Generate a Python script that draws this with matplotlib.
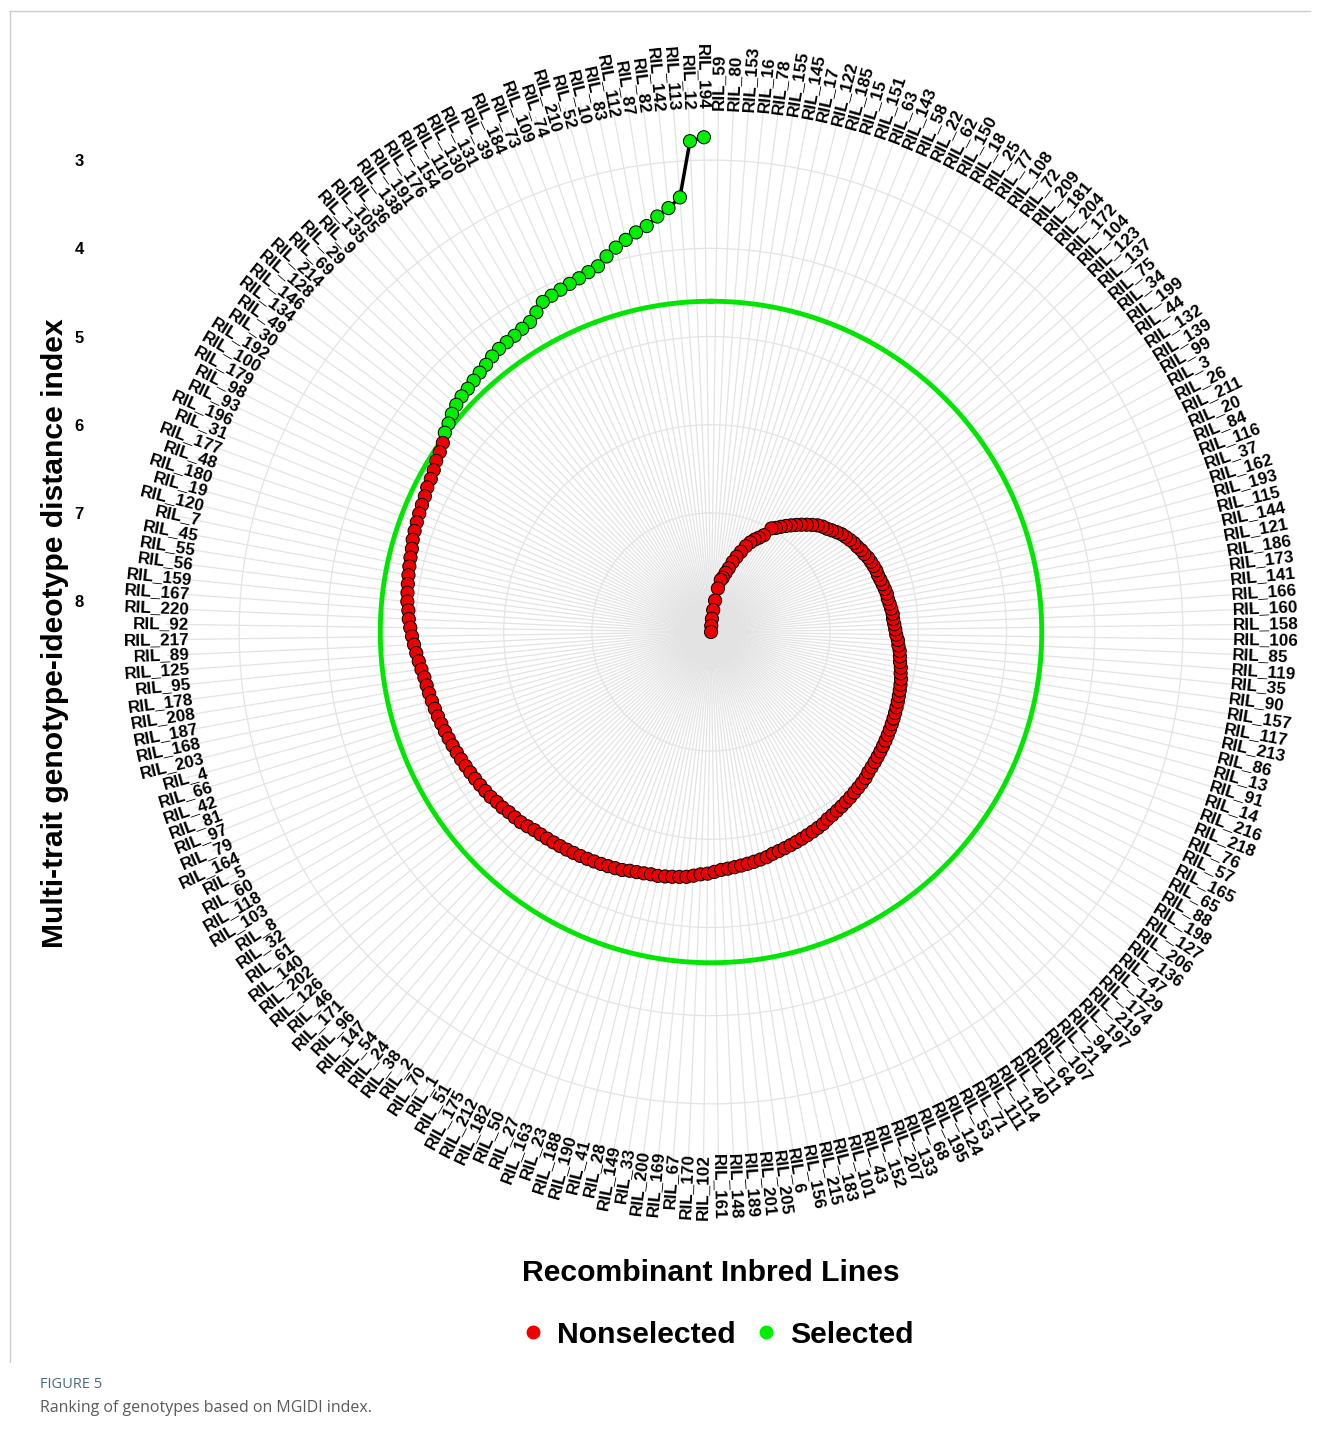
import matplotlib.pyplot as plt
import numpy as np
from matplotlib.lines import Line2D

# genotypes in ranking order (lowest MGIDI first)
genotypes = [
    194, 12, 113, 142, 82, 87, 112, 83, 10, 52, 210, 74, 109, 73, 184, 39, 131, 130, 110, 154,
    176, 191, 138, 36, 105, 135, 9, 29, 69, 214, 128, 146, 134, 49, 30, 192, 100, 179, 98, 93,
    196, 31, 177, 48, 180, 19, 120, 7, 45, 55, 56, 159, 167, 220, 92, 217, 89, 125, 95, 178,
    208, 187, 168, 203, 4, 66, 42, 81, 97, 79, 164, 5, 60, 118, 103, 8, 32, 61, 140, 202,
    126, 46, 171, 96, 147, 54, 24, 38, 2, 70, 1, 51, 175, 212, 182, 50, 27, 163, 23, 188,
    190, 41, 28, 149, 33, 200, 169, 67, 170, 102, 161, 148, 189, 201, 205, 6, 156, 215, 183, 101,
    43, 152, 207, 133, 68, 195, 124, 53, 71, 111, 114, 40, 11, 64, 107, 21, 94, 197, 219, 174,
    129, 47, 136, 206, 127, 198, 88, 65, 165, 57, 76, 218, 216, 14, 91, 13, 86, 213, 117, 157,
    90, 35, 119, 85, 106, 158, 160, 166, 141, 173, 186, 121, 144, 115, 193, 162, 37, 116, 84, 20,
    211, 26, 3, 99, 139, 132, 44, 199, 34, 75, 137, 123, 104, 172, 204, 181, 209, 72, 108, 77,
    25, 18, 150, 62, 22, 58, 143, 63, 151, 15, 185, 122, 17, 145, 155, 78, 16, 153, 80, 59,
]
labels = ["RIL_%d" % g for g in genotypes]

# MGIDI values, same order as genotypes
mgidi = [
    2.74, 2.78, 3.41, 3.52, 3.60, 3.69, 3.74, 3.80, 3.86, 3.93,
    4.01, 4.04, 4.07, 4.09, 4.11, 4.13, 4.15, 4.22, 4.28, 4.30,
    4.32, 4.33, 4.34, 4.36, 4.39, 4.41, 4.43, 4.45, 4.46, 4.48,
    4.51, 4.55, 4.58, 4.63, 4.66, 4.68, 4.71, 4.73, 4.74, 4.76,
    4.77, 4.78, 4.79, 4.80, 4.81, 4.83, 4.84, 4.85, 4.86, 4.87,
    4.88, 4.89, 4.91, 4.92, 4.94, 4.96, 4.98, 5.00, 5.02, 5.04,
    5.06, 5.07, 5.08, 5.09, 5.10, 5.11, 5.12, 5.13, 5.14, 5.15,
    5.16, 5.17, 5.18, 5.19, 5.20, 5.21, 5.22, 5.23, 5.25, 5.26,
    5.28, 5.29, 5.30, 5.32, 5.34, 5.35, 5.36, 5.37, 5.38, 5.39,
    5.40, 5.41, 5.42, 5.43, 5.44, 5.45, 5.46, 5.47, 5.49, 5.50,
    5.51, 5.52, 5.52, 5.53, 5.54, 5.55, 5.56, 5.58, 5.60, 5.61,
    5.63, 5.65, 5.66, 5.67, 5.68, 5.69, 5.70, 5.71, 5.72, 5.74,
    5.75, 5.76, 5.77, 5.78, 5.79, 5.80, 5.81, 5.82, 5.83, 5.85,
    5.86, 5.87, 5.88, 5.89, 5.90, 5.91, 5.92, 5.93, 5.94, 5.96,
    5.97, 5.98, 5.99, 6.00, 6.01, 6.02, 6.03, 6.04, 6.05, 6.06,
    6.07, 6.08, 6.09, 6.10, 6.11, 6.12, 6.13, 6.15, 6.16, 6.18,
    6.19, 6.20, 6.22, 6.23, 6.25, 6.26, 6.27, 6.28, 6.28, 6.29,
    6.30, 6.31, 6.31, 6.32, 6.33, 6.34, 6.35, 6.35, 6.36, 6.37,
    6.38, 6.40, 6.41, 6.43, 6.44, 6.46, 6.48, 6.50, 6.53, 6.56,
    6.59, 6.61, 6.64, 6.68, 6.72, 6.76, 6.80, 6.84, 6.88, 6.92,
    6.96, 6.99, 7.10, 7.15, 7.19, 7.24, 7.30, 7.38, 7.45, 7.52,
    7.60, 7.66, 7.72, 7.75, 7.85, 7.99, 8.10, 8.20, 8.28, 8.35,
]
n_selected = 33
cutpoint = 4.60
r_ticks = [3, 4, 5, 6, 7, 8]

plt.rcParams['font.family'] = ['Liberation Sans', 'DejaVu Sans']

W, H = 1322, 1436
fig = plt.figure(figsize=(W / 100, H / 100), dpi=100)

# polar panel geometry (pixels)
cx, cy, R = 711, 632, 545
r_center = 8.35      # value sitting at the centre
px_unit = 88.2       # pixels per index unit
r_edge = r_center - R / px_unit

ax = fig.add_axes([(cx - R) / W, 1 - (cy + R) / H, 2 * R / W, 2 * R / H], projection='polar')
ax.set_theta_zero_location('N')
ax.set_theta_direction(1)
ax.set_ylim(r_center, r_edge)

n = len(mgidi)
theta = 2 * np.pi * (np.arange(n) + 0.5) / n

ax.set_xticks(theta)
ax.set_xticklabels([])
ax.set_yticks(r_ticks)
ax.set_yticklabels([])
ax.tick_params(length=0)
ax.grid(True, color='#e3e3e3', lw=0.9)
ax.spines['polar'].set_visible(False)

# cut point circle
th = np.linspace(0, 2 * np.pi, 500)
ax.plot(th, np.full_like(th, cutpoint), color='#00e600', lw=3.5, zorder=2)

# path + points
ax.plot(theta, mgidi, color='black', lw=2.5, zorder=3)
cols = ['#00ee00' if i < n_selected else '#ee0000' for i in range(n)]
ax.scatter(theta, mgidi, s=90, c=cols, edgecolors='black', linewidths=0.7, zorder=4)

# genotype labels around the circle
r_lab = r_center - 522 / px_unit
for t, lab in zip(theta, labels):
    deg = np.degrees(t)
    alpha = 90 + deg
    if deg < 180:
        rot, ha = alpha - 180, 'right'
    else:
        rot, ha = alpha - 360, 'left'
    ax.text(t, r_lab, lab, rotation=rot, rotation_mode='anchor', ha=ha, va='center',
            fontsize=12.3, fontweight='bold', clip_on=False)

# radial axis drawn on the left like ggplot
ax_y = fig.add_axes([92 / W, 1 - (cy + R) / H, 0.001, 2 * R / H])
ax_y.set_ylim(r_center + R / px_unit, r_edge)
ax_y.set_yticks(r_ticks)
ax_y.set_yticklabels([str(v) for v in r_ticks], fontsize=12, fontweight='bold')
ax_y.set_xticks([])
ax_y.tick_params(axis='y', length=0, pad=6)
for s in ax_y.spines.values():
    s.set_visible(False)
ax_y.patch.set_visible(False)

fig.text(55 / W, 1 - 633 / H, 'Multi-trait genotype-ideotype distance index', rotation=90,
         ha='center', va='center', fontsize=21.7, fontweight='bold')
fig.text(711 / W, 1 - 1273 / H, 'Recombinant Inbred Lines', ha='center', va='center',
         fontsize=21.7, fontweight='bold')

handles = [Line2D([], [], marker='o', ls='', color='#ee0000', markersize=9),
           Line2D([], [], marker='o', ls='', color='#00ee00', markersize=9)]
fig.legend(handles, ['Nonselected', 'Selected'], loc='center', bbox_to_anchor=(716 / W, 1 - 1335 / H),
           ncol=2, frameon=False, prop={'size': 21.7, 'weight': 'bold'}, handletextpad=0.3,
           columnspacing=0.5, handlelength=1.0)

# figure caption and frame
fig.text(40 / W, 1 - 1384 / H, 'FIGURE 5', ha='left', va='center', fontsize=10.5,
         color='#4a6a7a', family=['Open Sans', 'DejaVu Sans'])
fig.text(40 / W, 1 - 1408 / H, 'Ranking of genotypes based on MGIDI index.', ha='left', va='center',
         fontsize=11.5, color='#5a5a5a', family=['Open Sans', 'DejaVu Sans'])
fig.add_artist(Line2D([10 / W, 1310 / W], [1 - 11 / H, 1 - 11 / H], color='#cccccc', lw=1))
fig.add_artist(Line2D([10 / W, 10 / W], [1 - 11 / H, 1 - 1362 / H], color='#cccccc', lw=1))

fig.savefig('out.png', dpi=100)
